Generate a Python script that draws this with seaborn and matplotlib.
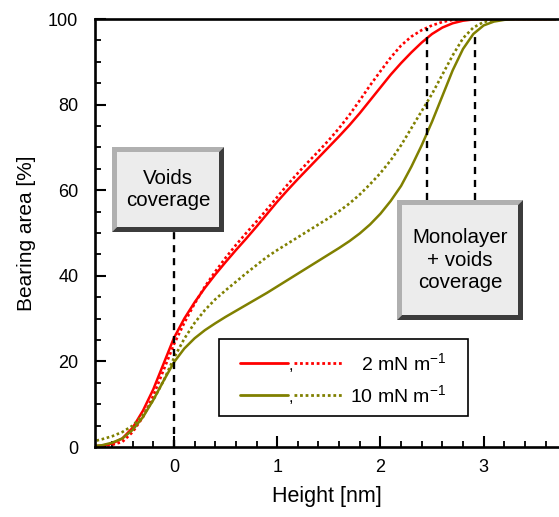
import numpy as np
import pandas as pd
import matplotlib
matplotlib.use("Agg")
import matplotlib.pyplot as plt
from matplotlib.patches import Polygon, Rectangle
from matplotlib.lines import Line2D
import seaborn as sns

# ---- data ----
height = [-0.8, -0.7, -0.6, -0.5, -0.4, -0.3, -0.2, -0.1, 0.0, 0.1, 0.2, 0.3, 0.4, 0.5,
          0.6, 0.7, 0.8, 0.9, 1.0, 1.1, 1.2, 1.3, 1.4, 1.5, 1.6, 1.7, 1.8, 1.9, 2.0,
          2.1, 2.2, 2.3, 2.4, 2.5, 2.6, 2.7, 2.8, 2.9, 3.0, 3.1, 3.2, 3.3, 3.4, 3.5, 3.6, 3.7]
red_solid = [0.2, 0.3, 0.8, 2.0, 4.5, 8.5, 13.5, 19.5, 25.5, 30.0, 33.8, 37.2, 40.3, 43.2,
             46.0, 48.7, 51.5, 54.4, 57.3, 60.0, 62.6, 65.1, 67.6, 70.1, 72.6, 75.2, 78.0, 81.0, 84.0,
             87.0, 89.7, 92.2, 94.5, 96.5, 98.0, 99.0, 99.6, 99.9, 100, 100, 100, 100, 100, 100, 100, 100]
red_dotted = [0.1, 0.2, 0.5, 1.2, 3.5, 7.0, 12.0, 18.0, 24.0, 29.0, 33.5, 37.5, 41.0, 44.2,
              47.2, 50.0, 52.7, 55.5, 58.4, 61.3, 64.0, 66.6, 69.1, 71.7, 74.5, 77.6, 81.0, 84.5, 87.8,
              91.0, 93.8, 95.9, 97.4, 98.5, 99.3, 99.8, 100, 100, 100, 100, 100, 100, 100, 100, 100, 100]
olive_solid = [0.2, 0.4, 1.0, 2.0, 4.0, 7.0, 11.0, 15.5, 19.8, 23.0, 25.4, 27.3, 28.9, 30.4,
               31.8, 33.2, 34.6, 36.0, 37.5, 39.0, 40.5, 42.0, 43.5, 45.0, 46.5, 48.1, 49.9, 52.0, 54.5,
               57.5, 61.0, 65.5, 70.5, 76.0, 82.0, 88.0, 93.0, 96.5, 98.5, 99.4, 99.8, 100, 100, 100, 100, 100]
olive_dotted = [1.2, 1.8, 2.5, 3.5, 5.0, 7.5, 11.0, 15.5, 20.8, 25.3, 29.0, 32.0, 34.5, 36.6,
                38.6, 40.6, 42.5, 44.4, 46.0, 47.5, 49.0, 50.5, 52.0, 53.5, 55.1, 56.9, 59.0, 61.4, 64.0,
                67.0, 70.5, 74.5, 78.5, 82.5, 87.0, 91.5, 95.5, 98.0, 99.3, 99.8, 100, 100, 100, 100, 100, 100]
legend_labels = ["2 mN m$^{-1}$", "10 mN m$^{-1}$"]
guide_x = [0.0, 2.45, 2.92]
guide_bottom = [0.0, 57.7, 57.7]
guide_top = [50.5, 97.9, 97.0]
x_ticks = [0, 1, 2, 3]
y_ticks = [0, 20, 40, 60, 80, 100]

RED = "#ff0000"
OLIVE = "#808000"

sns.set_theme(style="ticks")
plt.rcParams['font.family'] = ['Liberation Sans', 'DejaVu Sans']
plt.rcParams['mathtext.fontset'] = 'custom'
plt.rcParams['mathtext.rm'] = 'Liberation Sans'
plt.rcParams['mathtext.it'] = 'Liberation Sans'
plt.rcParams['text.color'] = 'black'
plt.rcParams['axes.labelcolor'] = 'black'

W, H = 559, 517
fig = plt.figure(figsize=(W / 100, H / 100), dpi=100)
ax = fig.add_axes([95 / W, 1 - 447 / H, 1 - 95 / W, (447 - 19) / H])

df = pd.DataFrame({"x": height, "rs": red_solid, "rd": red_dotted,
                   "os": olive_solid, "od": olive_dotted})

sns.lineplot(data=df, x="x", y="rs", ax=ax, color=RED, linewidth=1.8, sort=False)
sns.lineplot(data=df, x="x", y="rd", ax=ax, color=RED, linewidth=1.9, linestyle=(0, (1, 1)), sort=False)
sns.lineplot(data=df, x="x", y="os", ax=ax, color=OLIVE, linewidth=1.8, sort=False)
sns.lineplot(data=df, x="x", y="od", ax=ax, color=OLIVE, linewidth=1.9, linestyle=(0, (1, 1)), sort=False)

ax.vlines(guide_x, guide_bottom, guide_top, colors="black", linewidth=1.7,
          linestyles=(0, (3, 2.5)), zorder=5)

ax.set_xlim(-0.765, 3.73)
ax.set_ylim(0, 100)
ax.set_xticks(x_ticks)
ax.set_yticks(y_ticks)
ax.set_xticks(np.arange(-0.6, 3.75, 0.2), minor=True)
ax.set_yticks(np.arange(0, 101, 5), minor=True)
ax.tick_params(which="major", direction="in", length=8, width=1.5, labelsize=13, colors="black")
ax.tick_params(axis="x", which="major", pad=9)
ax.tick_params(axis="y", which="major", pad=12)
ax.tick_params(which="minor", direction="in", length=4.5, width=1.3, colors="black")
ax.tick_params(axis="x", which="both", top=False)
ax.tick_params(axis="y", which="both", right=False)
for s in ["left", "bottom", "top"]:
    ax.spines[s].set_visible(True)
    ax.spines[s].set_linewidth(1.9)
    ax.spines[s].set_color("black")
ax.spines["right"].set_visible(False)
ax.set_xlabel("Height [nm]", fontsize=15.5, labelpad=7, color="black")
ax.set_ylabel("Bearing area [%]", fontsize=15, labelpad=9, color="black")
ax.set_facecolor("white")


def fp(px, py):
    return (px / W, 1 - py / H)


def bevel_box(x0, y0, x1, y1, b, text):
    face = "#ececec"
    light = "#b0b0b0"
    dark = "#3c3c3c"
    tr = fig.transFigure
    fig.patches.append(Polygon([fp(x0, y0), fp(x1, y0), fp(x1 - b, y0 + b), fp(x0 + b, y0 + b),
                                fp(x0 + b, y1 - b), fp(x0, y1)], closed=True,
                               facecolor=light, edgecolor="none", transform=tr, zorder=10))
    fig.patches.append(Polygon([fp(x1, y0), fp(x1, y1), fp(x0, y1), fp(x0 + b, y1 - b),
                                fp(x1 - b, y1 - b), fp(x1 - b, y0 + b)], closed=True,
                               facecolor=dark, edgecolor="none", transform=tr, zorder=10))
    fig.patches.append(Polygon([fp(x0 + b, y0 + b), fp(x1 - b, y0 + b), fp(x1 - b, y1 - b),
                                fp(x0 + b, y1 - b)], closed=True,
                               facecolor=face, edgecolor="none", transform=tr, zorder=11))
    cx, cy = fp((x0 + x1) / 2, (y0 + y1) / 2)
    fig.text(cx, cy, text, ha="center", va="center", fontsize=14.8, linespacing=1.25,
             zorder=12, color="black")


bevel_box(112, 147, 224, 232, 5, "Voids\ncoverage")
bevel_box(397, 200, 523, 320, 5, "Monolayer\n+ voids\ncoverage")

# legend (manual)
tr = fig.transFigure
fig.patches.append(Rectangle(fp(219, 416), (468 - 219) / W, (416 - 339) / H, transform=tr,
                             facecolor="white", edgecolor="black", linewidth=1.2, zorder=10))
for (ry, col, lab) in [(363, RED, legend_labels[0]), (395, OLIVE, legend_labels[1])]:
    fig.lines.append(Line2D([240 / W, 288 / W], [1 - ry / H] * 2, color=col, linewidth=2.0,
                            transform=tr, zorder=11))
    fig.lines.append(Line2D([294 / W, 342 / W], [1 - ry / H] * 2, color=col, linewidth=2.0,
                            linestyle=(0, (1, 1)), transform=tr, zorder=11))
    fig.text(291 / W, 1 - (ry + 3) / H, ",", ha="center", va="center", fontsize=12, zorder=12,
             color="black")
    fig.text(446 / W, 1 - ry / H, lab, ha="right", va="center", fontsize=14, zorder=12,
             color="black")

fig.savefig("out.png", dpi=100, facecolor="white")
